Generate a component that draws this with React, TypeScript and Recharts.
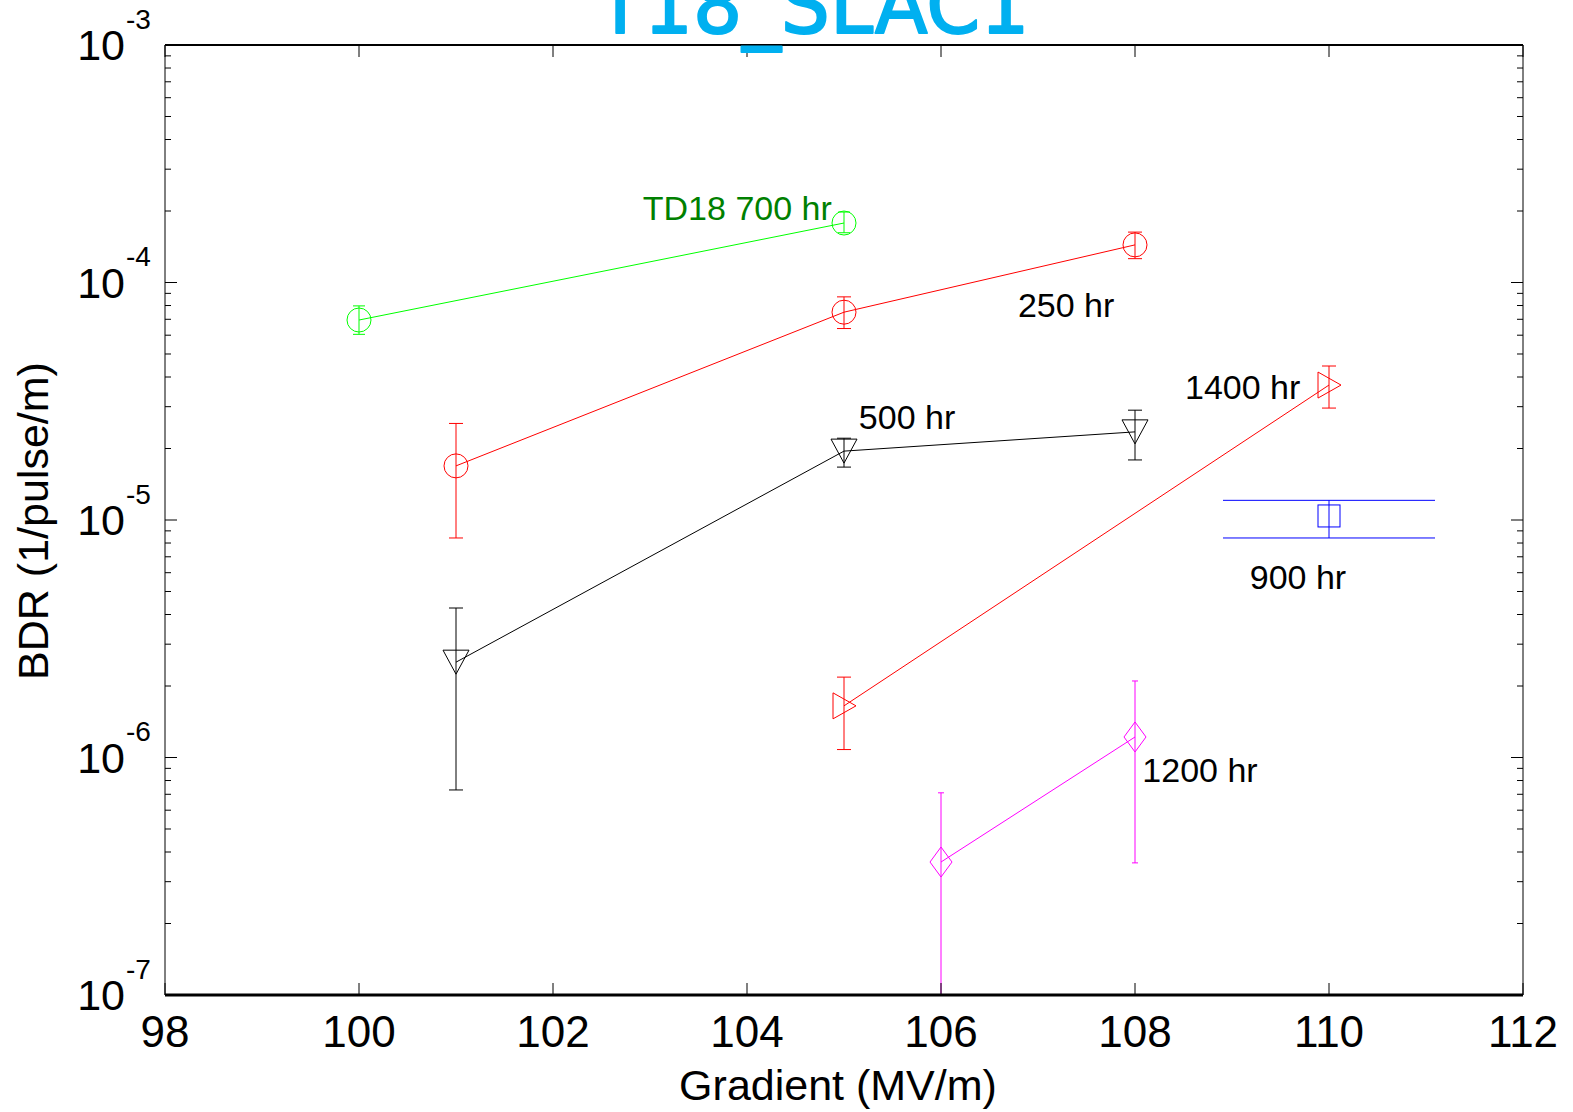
import React from 'react';
import { ComposedChart, Line, XAxis, YAxis, ErrorBar, Scatter } from 'recharts';

// ---- data ----
const td18X = [100, 105];
const td18Y = [6.95e-5, 1.78e-4];
const td18Lo = [6.05e-5, 1.62e-4];
const td18Hi = [7.97e-5, 1.98e-4];

const hr250X = [101, 105, 108];
const hr250Y = [1.69e-5, 7.5e-5, 1.44e-4];
const hr250Lo = [8.4e-6, 6.4e-5, 1.26e-4];
const hr250Hi = [2.55e-5, 8.7e-5, 1.63e-4];

const hr500X = [101, 105, 108];
const hr500Y = [2.52e-6, 1.95e-5, 2.35e-5];
const hr500Lo = [7.3e-7, 1.67e-5, 1.79e-5];
const hr500Hi = [4.26e-6, 2.21e-5, 2.9e-5];

const hr1400X = [105, 110];
const hr1400Y = [1.65e-6, 3.7e-5];
const hr1400Lo = [1.08e-6, 2.96e-5];
const hr1400Hi = [2.18e-6, 4.45e-5];

const hr900X = [110];
const hr900Y = [1.04e-5];
const hr900Lo = [8.4e-6];
const hr900Hi = [1.21e-5];

const hr1200X = [106, 108];
const hr1200Y = [3.63e-7, 1.22e-6];
const hr1200Lo = [1.0e-7, 3.6e-7];
const hr1200Hi = [7.1e-7, 2.1e-6];

const annotationText = ['TD18 700 hr', '250 hr', '500 hr', '1400 hr', '900 hr', '1200 hr'];
const annotationX = [103.9, 107.29, 105.65, 109.11, 109.68, 108.67];
const annotationY = [2.06e-4, 8.04e-5, 2.71e-5, 3.63e-5, 5.75e-6, 8.85e-7];
const annotationColor = ['#008000', '#000000', '#000000', '#000000', '#000000', '#000000'];

const xTicks = [98, 100, 102, 104, 106, 108, 110, 112];
const yExponents = [-7, -6, -5, -4, -3];

// ---- helpers ----
const build = (xs: number[], ys: number[], lo: number[], hi: number[]) =>
  xs.map((x, i) => ({ x, y: ys[i], err: [ys[i] - lo[i], hi[i] - ys[i]] }));

const yTicks: number[] = [];
yExponents.forEach((e, i) => {
  const base = Math.pow(10, e);
  if (i === yExponents.length - 1) {
    yTicks.push(base);
  } else {
    for (let m = 1; m <= 9; m++) yTicks.push(m * base);
  }
});

const isMajor = (v: number) => {
  const l = Math.log10(v);
  return Math.abs(l - Math.round(l)) < 1e-6;
};

const FONT = '"Liberation Sans", Arial, sans-serif';

type Shape = 'circle' | 'triDown' | 'triRight' | 'diamond' | 'square';

const makeDot = (shape: Shape, color: string) => (p: any) => {
  const { cx, cy, index } = p;
  const k = `d-${index}`;
  if (cx == null || cy == null || isNaN(cx) || isNaN(cy)) return <g key={k} />;
  const common = { fill: 'none', stroke: color, strokeWidth: 1 };
  switch (shape) {
    case 'circle':
      return <circle key={k} cx={cx} cy={cy} r={12} {...common} />;
    case 'triDown':
      return (
        <polygon key={k} points={`${cx - 13},${cy - 12} ${cx + 13},${cy - 12} ${cx},${cy + 12}`} {...common} />
      );
    case 'triRight':
      return (
        <polygon key={k} points={`${cx - 11},${cy - 13} ${cx - 11},${cy + 13} ${cx + 12},${cy}`} {...common} />
      );
    case 'diamond':
      return (
        <polygon
          key={k}
          points={`${cx},${cy - 15} ${cx + 11},${cy} ${cx},${cy + 15} ${cx - 11},${cy}`}
          {...common}
        />
      );
    case 'square':
    default:
      return <rect key={k} x={cx - 11} y={cy - 11} width={22} height={22} {...common} />;
  }
};

const series = [
  { id: 'td18', data: build(td18X, td18Y, td18Lo, td18Hi), color: '#00ff00', shape: 'circle' as Shape, cap: 6 },
  { id: 'hr250', data: build(hr250X, hr250Y, hr250Lo, hr250Hi), color: '#ff0000', shape: 'circle' as Shape, cap: 7 },
  { id: 'hr500', data: build(hr500X, hr500Y, hr500Lo, hr500Hi), color: '#000000', shape: 'triDown' as Shape, cap: 7 },
  { id: 'hr1400', data: build(hr1400X, hr1400Y, hr1400Lo, hr1400Hi), color: '#ff0000', shape: 'triRight' as Shape, cap: 7 },
  { id: 'hr900', data: build(hr900X, hr900Y, hr900Lo, hr900Hi), color: '#0000ff', shape: 'square' as Shape, cap: 106 },
  { id: 'hr1200', data: build(hr1200X, hr1200Y, hr1200Lo, hr1200Hi), color: '#ff00ff', shape: 'diamond' as Shape, cap: 3 },
];

const annotations = annotationText.map((t, i) => ({
  x: annotationX[i],
  y: annotationY[i],
  text: t,
  color: annotationColor[i],
}));

// ---- ticks ----
const BottomTick = (p: any) => {
  const { x, y, payload } = p;
  return (
    <g>
      <line x1={x} x2={x} y1={y} y2={y - 12} stroke="#000" strokeWidth={1} />
      <text x={x} y={y + 36} textAnchor="middle" dominantBaseline="central" fontSize={44} fontFamily={FONT} fill="#000">
        {payload.value}
      </text>
    </g>
  );
};

const TopTick = (p: any) => {
  const { x, y } = p;
  return <line x1={x} x2={x} y1={y} y2={y + 12} stroke="#000" strokeWidth={1} />;
};

const LeftTick = (p: any) => {
  const { x, y, payload } = p;
  const major = isMajor(payload.value);
  const exp = Math.round(Math.log10(payload.value));
  return (
    <g>
      <line x1={x} x2={x + (major ? 12 : 6)} y1={y} y2={y} stroke="#000" strokeWidth={1} />
      {major && (
        <g>
          <text x={x - 40} y={y} textAnchor="end" dominantBaseline="central" fontSize={43} fontFamily={FONT} fill="#000">
            10
          </text>
          <text x={x - 39} y={y - 26} textAnchor="start" dominantBaseline="central" fontSize={28} fontFamily={FONT} fill="#000">
            {exp}
          </text>
        </g>
      )}
    </g>
  );
};

const RightTick = (p: any) => {
  const { x, y, payload } = p;
  const major = isMajor(payload.value);
  return <line x1={x} x2={x - (major ? 12 : 6)} y1={y} y2={y} stroke="#000" strokeWidth={1} />;
};

const AnnotationShape = (p: any) => {
  const { cx, cy, payload } = p;
  return (
    <text x={cx} y={cy} textAnchor="middle" dominantBaseline="central" fontSize={34} fontFamily={FONT} fill={payload.color}>
      {payload.text}
    </text>
  );
};

export default function App() {
  return (
    <div style={{ position: 'absolute', left: 0, top: 0, width: 1573, height: 1112, background: '#fff' }}>
      <ComposedChart width={1573} height={1112} margin={{ top: 0, right: 0, bottom: 0, left: 0 }}>
        <XAxis
          xAxisId="b"
          dataKey="x"
          type="number"
          domain={[98, 112]}
          ticks={xTicks}
          allowDataOverflow
          height={117}
          tickSize={0}
          tickMargin={0}
          tickLine={false}
          tick={<BottomTick />}
          axisLine={{ stroke: '#000', strokeWidth: 3 }}
          interval={0}
        />
        <XAxis
          xAxisId="t"
          orientation="top"
          dataKey="x"
          type="number"
          domain={[98, 112]}
          ticks={xTicks}
          allowDataOverflow
          height={45}
          tickSize={0}
          tickMargin={0}
          tickLine={false}
          tick={<TopTick />}
          axisLine={{ stroke: '#000', strokeWidth: 2 }}
          interval={0}
        />
        <YAxis
          yAxisId="l"
          dataKey="y"
          scale="log"
          type="number"
          domain={[1e-7, 1e-3]}
          ticks={yTicks}
          allowDataOverflow
          width={165}
          tickSize={0}
          tickMargin={0}
          tickLine={false}
          tick={<LeftTick />}
          axisLine={{ stroke: '#000', strokeWidth: 1 }}
          interval={0}
        />
        <YAxis
          yAxisId="r"
          orientation="right"
          dataKey="y"
          scale="log"
          type="number"
          domain={[1e-7, 1e-3]}
          ticks={yTicks}
          allowDataOverflow
          width={50}
          tickSize={0}
          tickMargin={0}
          tickLine={false}
          tick={<RightTick />}
          axisLine={{ stroke: '#000', strokeWidth: 1 }}
          interval={0}
        />
        {series.map((s) => (
          <Line
            key={s.id}
            xAxisId="b"
            yAxisId="l"
            data={s.data}
            dataKey="y"
            stroke={s.color}
            strokeWidth={1}
            dot={makeDot(s.shape, s.color)}
            activeDot={false}
            isAnimationActive={false}
            legendType="none"
          >
            <ErrorBar dataKey="err" width={s.cap} stroke={s.color} strokeWidth={1} direction="y" isAnimationActive={false} />
          </Line>
        ))}
        <Scatter
          xAxisId="b"
          yAxisId="l"
          data={annotations}
          dataKey="y"
          shape={<AnnotationShape />}
          isAnimationActive={false}
          legendType="none"
        />
      </ComposedChart>
      <svg
        width={1573}
        height={1112}
        style={{ position: 'absolute', left: 0, top: 0, pointerEvents: 'none' }}
      >
        <text
          x={813}
          y={33}
          textAnchor="middle"
          fontSize={80}
          fontFamily='"Comic Sans MS", "DejaVu Sans", sans-serif'
          fill="#00b0f0"
          stroke="#00b0f0"
          strokeWidth={2}
          strokeLinejoin="round"
          textLength={433}
          lengthAdjust="spacingAndGlyphs"
        >
          T18_SLAC1
        </text>
        <text x={838} y={1085} textAnchor="middle" dominantBaseline="central" fontSize={43} fontFamily={FONT} fill="#000">
          Gradient (MV/m)
        </text>
        <text
          transform="translate(33,521) rotate(-90)"
          textAnchor="middle"
          dominantBaseline="central"
          fontSize={43}
          fontFamily={FONT}
          fill="#000"
        >
          BDR (1/pulse/m)
        </text>
      </svg>
    </div>
  );
}
